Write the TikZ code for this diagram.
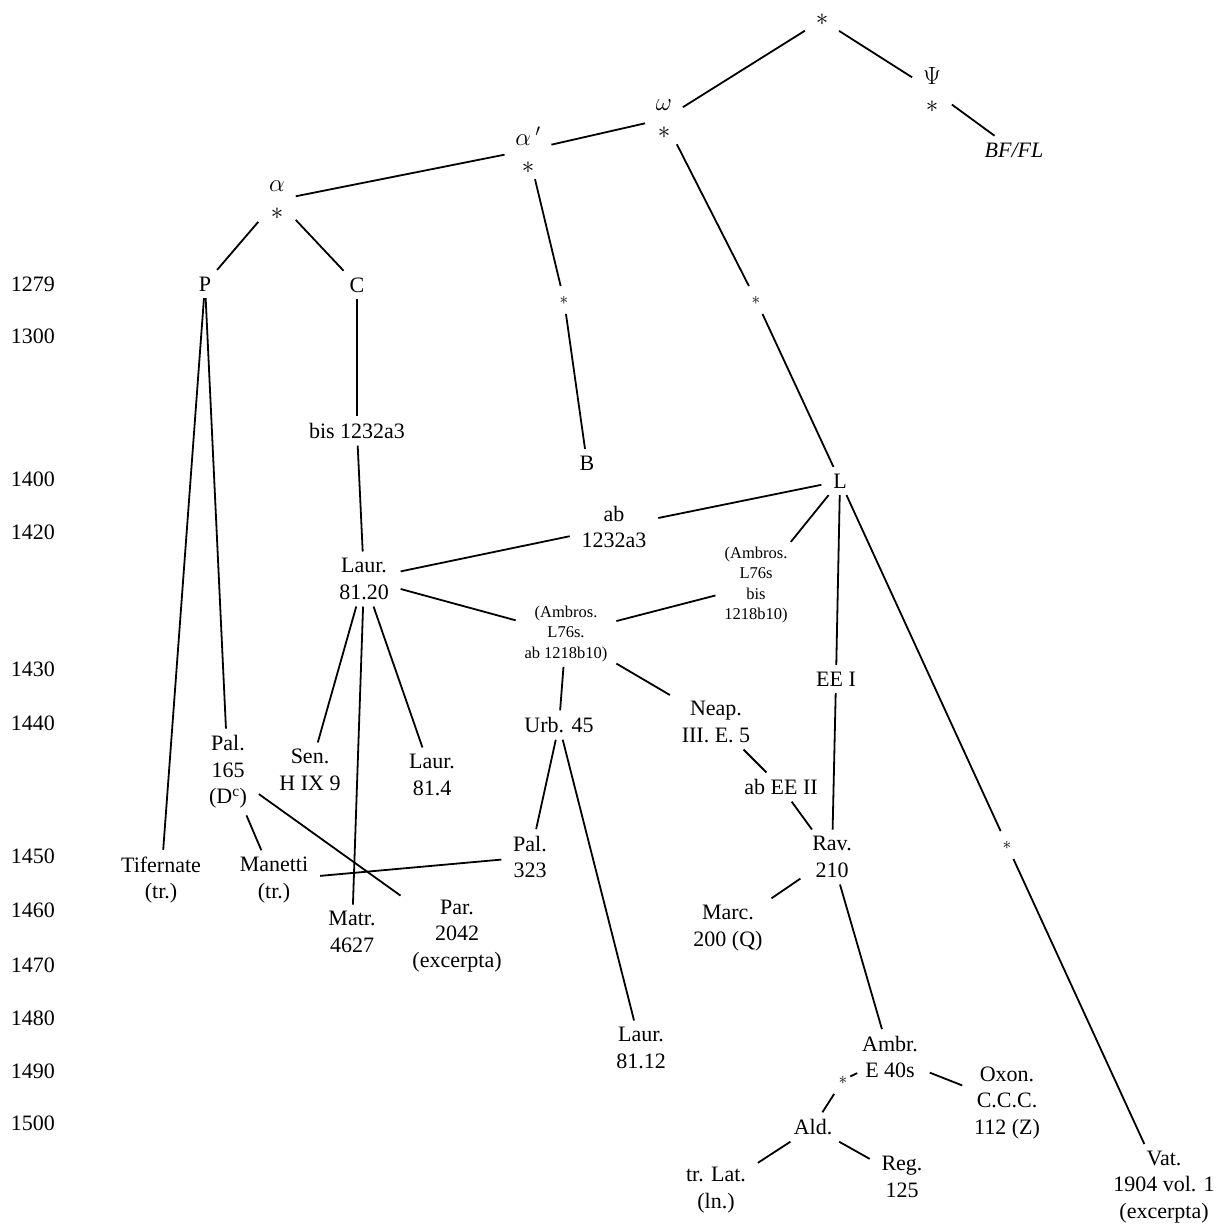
\documentclass[tikz,border=0pt]{standalone}
\usepackage{fontspec}
\setmainfont{Liberation Serif}
\usepackage{tikz}
\usetikzlibrary{positioning}
\tikzstyle{ms_n} = [align=center, inner xsep=11pt, inner ysep=6pt, font=\fontsize{22}{26.5}\selectfont]
\tikzstyle{gr_n} = [align=center, inner xsep=10pt, inner ysep=5pt, font=\fontsize{23}{28}\selectfont]
\tikzstyle{ms_s} = [align=center, inner xsep=8pt, inner ysep=4pt, font=\fontsize{16.5}{20.5}\selectfont]
\tikzstyle{ast_s} = [inner sep=9pt, font=\fontsize{17}{18}\selectfont]
\tikzstyle{yr_n} = [anchor=west, inner sep=0pt, font=\fontsize{22}{24}\selectfont]

\begin{document}
\begin{tikzpicture}[x=1pt, y=-1pt, line width=1.8pt]
\useasboundingbox (0,0) rectangle (1230,1227);

% years
\foreach \yr/\yy in {1279/284, 1300/336, 1400/479, 1420/532, 1430/669, 1440/723,
  1450/856, 1460/910, 1470/965, 1480/1018, 1490/1071, 1500/1123}
  \node [yr_n] (y\yr) at (10,\yy) {\yr};

% hyparchetypes
\node [gr_n] (top) at (822,20) {$\ast$};
\node [gr_n] (psi) at (932,90) {$\Psi$\\$\ast$};
\node [ms_n] (bffl) at (1014,150) {\textit{BF/FL}};
\node [gr_n] (omega) at (664,119) {$\omega$\\$\ast$};
\node [gr_n] (alphap) at (528,150) {$\alpha\,'$\\$\ast$};
\node [gr_n] (alpha) at (277,200) {$\alpha$\\$\ast$};
\node [ms_n] (P) at (205,284) {P};
\node [ms_n] (C) at (357,285) {C};
\node [ast_s] (astB) at (564,300) {$\ast$};
\node [ast_s] (astL) at (756,300) {$\ast$};
\node [ms_n] (bis) at (357,431) {bis 1232a3};
\node [ms_n] (B) at (587,463) {B};
\node [ms_n] (L) at (840,481) {L};
\node [ms_n] (ab1232) at (614,527) {ab\\1232a3};
\node [ms_s] (ambbis) at (756,585) {(Ambros.\\L76s\\bis\\1218b10)};
\node [ms_n] (laur8120) at (364,579) {Laur.\\81.20};
\node [ms_s] (ambab) at (566,634) {(Ambros.\\L76s.\\ab 1218b10)};

% manuscripts
\node [ms_n] (eeI) at (836,679) {EE I};
\node [ms_n] (urb) at (559,725) {Urb. 45};
\node [ms_n] (neap) at (716,722) {Neap.\\III. E. 5};
\node [ms_n] (pal165) at (228,772) {Pal.\\165\\(D\textsuperscript{c})};
\node [ms_n] (sen) at (310,770) {Sen.\\H IX 9};
\node [ms_n] (laur814) at (432,775) {Laur.\\81.4};
\node [ms_n] (abEEII) at (781,787) {ab EE II};
\node [ms_n] (rav) at (832,857) {Rav.\\210};
\node [ast_s] (astV) at (1007,845) {$\ast$};
\node [ms_n] (pal323) at (530,857) {Pal.\\323};
\node [ms_n] (tif) at (161,880) {Tifernate\\(tr.)};
\node [ms_n] (manetti) at (274,880) {Manetti\\(tr.)};
\node [ms_n] (matr) at (352,932) {Matr.\\4627};
\node [ms_n] (par) at (457,936) {Par.\\2042\\(excerpta)};
\node [ms_n] (marc) at (728,928) {Marc.\\200 (Q)};
\node [ms_n] (laur8112) at (641,1048) {Laur.\\81.12};
\node [ms_n] (ambr) at (890,1057) {Ambr.\\E 40s};
\node [ast_s] (astA) at (843,1080) {$\ast$};
\node [ms_n] (oxon) at (1007,1103) {Oxon.\\C.C.C.\\112 (Z)};
\node [ms_n] (ald) at (813,1127) {Ald.};
\node [ms_n] (trlat) at (716,1190) {tr. Lat.\\(ln.)};
\node [ms_n] (reg) at (902,1177) {Reg.\\125};
\node [ms_n] (vat) at (1164,1187) {Vat.\\1904 vol. 1\\(excerpta)};

% stemma lines
\draw (top) -- (omega);
\draw (top) -- (psi);
\draw (psi) -- (bffl);
\draw (omega) -- (alphap);
\draw (alphap) -- (alpha);
\draw (alpha) -- (P);
\draw (alpha) -- (C);
\draw (alphap) -- (astB);
\draw (omega) -- (astL);
\draw (astB) -- (B);
\draw (astL) -- (L);
\draw (P) -- (tif);
\draw (P) -- (pal165);
\draw (C) -- (bis);
\draw (bis) -- (laur8120);
\draw (laur8120) -- (ab1232) -- (L);
\draw (L) -- (ambbis) -- (ambab);
\draw (laur8120) -- (ambab);
\draw (ambab) -- (urb);
\draw (ambab) -- (neap);
\draw (L) -- (eeI) -- (rav);
\draw (L) -- (astV) -- (vat);
\draw (laur8120) -- (sen);
\draw (laur8120) -- (matr);
\draw (laur8120) -- (laur814);
\draw (pal165) -- (manetti);
\draw (pal165) -- (par);
\draw (manetti) -- (pal323);
\draw (urb) -- (pal323);
\draw (urb) -- (laur8112);
\draw (neap) -- (abEEII) -- (rav);
\draw (rav) -- (marc);
\draw (rav) -- (ambr);
\draw (ambr) -- (astA) -- (ald);
\draw (ambr) -- (oxon);
\draw (ald) -- (trlat);
\draw (ald) -- (reg);
\end{tikzpicture}
\end{document}
